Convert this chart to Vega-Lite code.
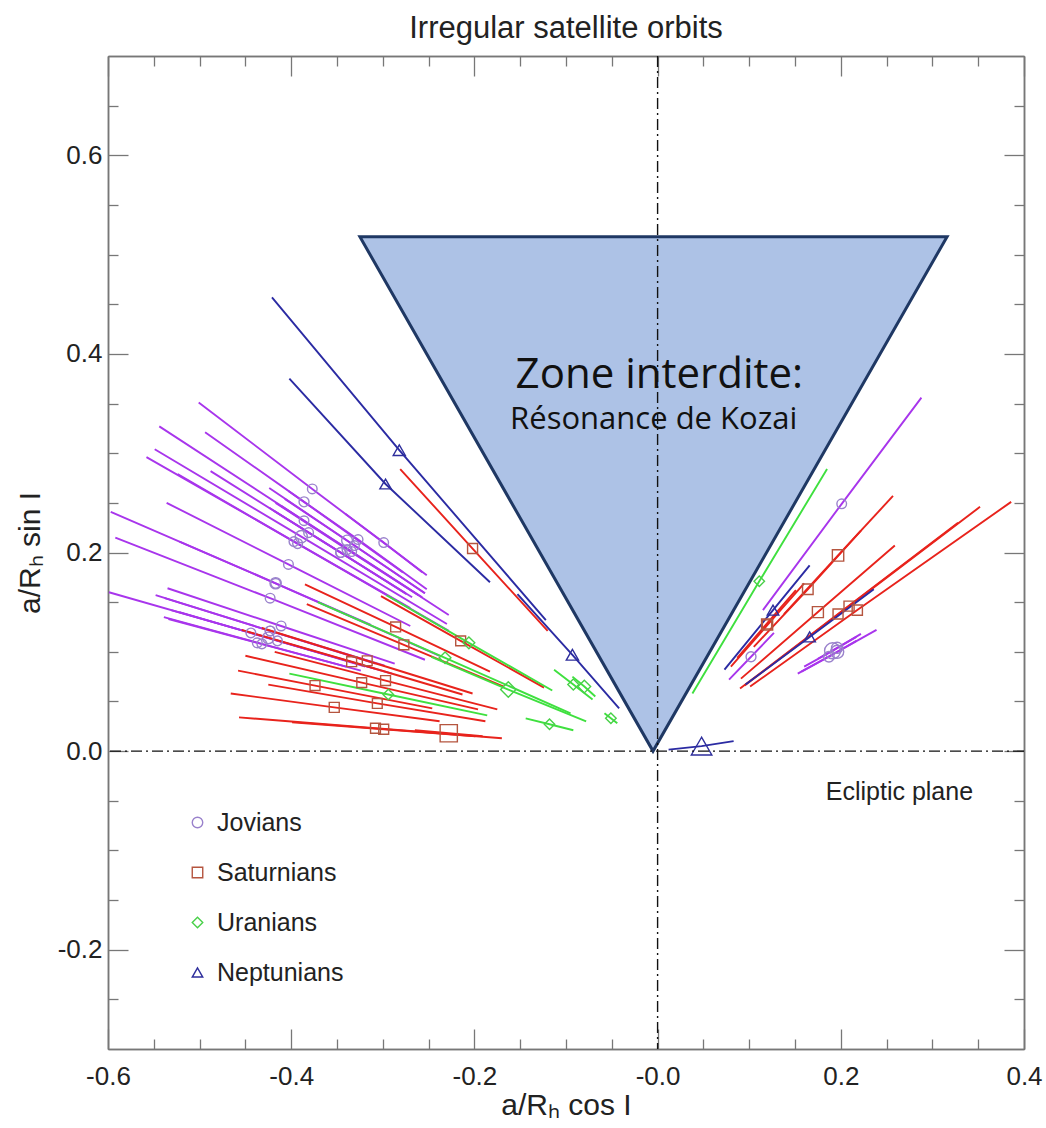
{
  "$schema": "https://vega.github.io/schema/vega-lite/v6.json",
  "autosize": {"type": "none"},
  "padding": {"left": 108, "top": 56, "right": 22, "bottom": 79},
  "width": 916,
  "height": 993,
  "config": {"font": "Liberation Sans", "view": {"stroke": null}},
  "title": {"text": "Irregular satellite orbits", "fontSize": 31, "fontWeight": "normal", "color": "#222222", "offset": 10},
  "datasets": {
    "orbits": [
      {"s":"J1","g":"Jovians","p":"q","x":-0.319,"y":0.085},{"s":"J1","g":"Jovians","p":"a","x":-0.425,"y":0.114,"d":46},{"s":"J1","g":"Jovians","p":"Q","x":-0.531,"y":0.142},
      {"s":"J2","g":"Jovians","p":"q","x":-0.298,"y":0.086},{"s":"J2","g":"Jovians","p":"a","x":-0.423,"y":0.121,"d":5},{"s":"J2","g":"Jovians","p":"Q","x":-0.548,"y":0.157},
      {"s":"J3","g":"Jovians","p":"q","x":-0.309,"y":0.083},{"s":"J3","g":"Jovians","p":"a","x":-0.415,"y":0.111,"d":4},{"s":"J3","g":"Jovians","p":"Q","x":-0.522,"y":0.140},
      {"s":"J4","g":"Jovians","p":"q","x":-0.324,"y":0.081},{"s":"J4","g":"Jovians","p":"a","x":-0.432,"y":0.108,"d":5},{"s":"J4","g":"Jovians","p":"Q","x":-0.539,"y":0.135},
      {"s":"J5","g":"Jovians","p":"q","x":-0.290,"y":0.078},{"s":"J5","g":"Jovians","p":"a","x":-0.444,"y":0.119,"d":4},{"s":"J5","g":"Jovians","p":"Q","x":-0.599,"y":0.160},
      {"s":"J6","g":"Jovians","p":"q","x":-0.308,"y":0.088},{"s":"J6","g":"Jovians","p":"a","x":-0.423,"y":0.121,"d":3},{"s":"J6","g":"Jovians","p":"Q","x":-0.538,"y":0.154},
      {"s":"J7","g":"Jovians","p":"q","x":-0.287,"y":0.088},{"s":"J7","g":"Jovians","p":"a","x":-0.411,"y":0.126,"d":3},{"s":"J7","g":"Jovians","p":"Q","x":-0.535,"y":0.164},
      {"s":"J8","g":"Jovians","p":"q","x":-0.340,"y":0.085},{"s":"J8","g":"Jovians","p":"a","x":-0.437,"y":0.109,"d":3},{"s":"J8","g":"Jovians","p":"Q","x":-0.534,"y":0.133},
      {"s":"J9","g":"Jovians","p":"q","x":-0.254,"y":0.159},{"s":"J9","g":"Jovians","p":"a","x":-0.339,"y":0.212,"d":28},{"s":"J9","g":"Jovians","p":"Q","x":-0.424,"y":0.265},
      {"s":"J10","g":"Jovians","p":"q","x":-0.261,"y":0.157},{"s":"J10","g":"Jovians","p":"a","x":-0.339,"y":0.203,"d":7},{"s":"J10","g":"Jovians","p":"Q","x":-0.417,"y":0.250},
      {"s":"J11","g":"Jovians","p":"q","x":-0.268,"y":0.155},{"s":"J11","g":"Jovians","p":"a","x":-0.346,"y":0.200,"d":5},{"s":"J11","g":"Jovians","p":"Q","x":-0.424,"y":0.245},
      {"s":"J12","g":"Jovians","p":"q","x":-0.257,"y":0.155},{"s":"J12","g":"Jovians","p":"a","x":-0.334,"y":0.201,"d":4},{"s":"J12","g":"Jovians","p":"Q","x":-0.411,"y":0.247},
      {"s":"J13","g":"Jovians","p":"q","x":-0.252,"y":0.163},{"s":"J13","g":"Jovians","p":"a","x":-0.327,"y":0.213,"d":3},{"s":"J13","g":"Jovians","p":"Q","x":-0.403,"y":0.262},
      {"s":"J14","g":"Jovians","p":"q","x":-0.254,"y":0.159},{"s":"J14","g":"Jovians","p":"a","x":-0.331,"y":0.207,"d":4},{"s":"J14","g":"Jovians","p":"Q","x":-0.407,"y":0.254},
      {"s":"J15","g":"Jovians","p":"q","x":-0.274,"y":0.158},{"s":"J15","g":"Jovians","p":"a","x":-0.346,"y":0.200,"d":4},{"s":"J15","g":"Jovians","p":"Q","x":-0.419,"y":0.242},
      {"s":"J16","g":"Jovians","p":"q","x":-0.257,"y":0.180},{"s":"J16","g":"Jovians","p":"a","x":-0.299,"y":0.210,"d":2},{"s":"J16","g":"Jovians","p":"Q","x":-0.341,"y":0.239},
      {"s":"J17","g":"Jovians","p":"q","x":-0.230,"y":0.128},{"s":"J17","g":"Jovians","p":"a","x":-0.389,"y":0.216,"d":60},{"s":"J17","g":"Jovians","p":"Q","x":-0.549,"y":0.304},
      {"s":"J18","g":"Jovians","p":"q","x":-0.313,"y":0.127},{"s":"J18","g":"Jovians","p":"a","x":-0.417,"y":0.169,"d":38},{"s":"J18","g":"Jovians","p":"Q","x":-0.522,"y":0.211},
      {"s":"J19","g":"Jovians","p":"q","x":-0.278,"y":0.180},{"s":"J19","g":"Jovians","p":"a","x":-0.386,"y":0.251,"d":9},{"s":"J19","g":"Jovians","p":"Q","x":-0.494,"y":0.321},
      {"s":"J20","g":"Jovians","p":"q","x":-0.228,"y":0.121},{"s":"J20","g":"Jovians","p":"a","x":-0.393,"y":0.209,"d":6},{"s":"J20","g":"Jovians","p":"Q","x":-0.558,"y":0.296},
      {"s":"J21","g":"Jovians","p":"q","x":-0.270,"y":0.144},{"s":"J21","g":"Jovians","p":"a","x":-0.397,"y":0.211,"d":4},{"s":"J21","g":"Jovians","p":"Q","x":-0.524,"y":0.279},
      {"s":"J22","g":"Jovians","p":"q","x":-0.270,"y":0.126},{"s":"J22","g":"Jovians","p":"a","x":-0.403,"y":0.188,"d":3},{"s":"J22","g":"Jovians","p":"Q","x":-0.536,"y":0.250},
      {"s":"J23","g":"Jovians","p":"q","x":-0.238,"y":0.096},{"s":"J23","g":"Jovians","p":"a","x":-0.417,"y":0.169,"d":4},{"s":"J23","g":"Jovians","p":"Q","x":-0.597,"y":0.241},
      {"s":"J24","g":"Jovians","p":"q","x":-0.252,"y":0.177},{"s":"J24","g":"Jovians","p":"a","x":-0.377,"y":0.264,"d":2},{"s":"J24","g":"Jovians","p":"Q","x":-0.501,"y":0.351},
      {"s":"J25","g":"Jovians","p":"q","x":-0.228,"y":0.137},{"s":"J25","g":"Jovians","p":"a","x":-0.386,"y":0.232,"d":2},{"s":"J25","g":"Jovians","p":"Q","x":-0.544,"y":0.327},
      {"s":"J26","g":"Jovians","p":"q","x":-0.275,"y":0.159},{"s":"J26","g":"Jovians","p":"a","x":-0.381,"y":0.220,"d":3},{"s":"J26","g":"Jovians","p":"Q","x":-0.488,"y":0.282},
      {"s":"J27","g":"Jovians","p":"q","x":-0.254,"y":0.092},{"s":"J27","g":"Jovians","p":"a","x":-0.423,"y":0.154,"d":3},{"s":"J27","g":"Jovians","p":"Q","x":-0.592,"y":0.215},
      {"s":"J28","g":"Jovians","p":"q","x":0.160,"y":0.085},{"s":"J28","g":"Jovians","p":"a","x":0.191,"y":0.101,"d":170},{"s":"J28","g":"Jovians","p":"Q","x":0.222,"y":0.118},
      {"s":"J29","g":"Jovians","p":"q","x":0.153,"y":0.078},{"s":"J29","g":"Jovians","p":"a","x":0.196,"y":0.100,"d":86},{"s":"J29","g":"Jovians","p":"Q","x":0.239,"y":0.122},
      {"s":"J30","g":"Jovians","p":"q","x":0.175,"y":0.093},{"s":"J30","g":"Jovians","p":"a","x":0.196,"y":0.104,"d":36},{"s":"J30","g":"Jovians","p":"Q","x":0.217,"y":0.115},
      {"s":"J31","g":"Jovians","p":"q","x":0.157,"y":0.080},{"s":"J31","g":"Jovians","p":"a","x":0.187,"y":0.095,"d":20},{"s":"J31","g":"Jovians","p":"Q","x":0.217,"y":0.111},
      {"s":"J32","g":"Jovians","p":"q","x":0.078,"y":0.072},{"s":"J32","g":"Jovians","p":"a","x":0.102,"y":0.095,"d":8},{"s":"J32","g":"Jovians","p":"Q","x":0.127,"y":0.119},
      {"s":"J33","g":"Jovians","p":"q","x":0.115,"y":0.142},{"s":"J33","g":"Jovians","p":"a","x":0.201,"y":0.249,"d":3},{"s":"J33","g":"Jovians","p":"Q","x":0.288,"y":0.356},
      {"s":"S1","g":"Saturnians","p":"q","x":-0.120,"y":0.121},{"s":"S1","g":"Saturnians","p":"a","x":-0.202,"y":0.204,"d":10},{"s":"S1","g":"Saturnians","p":"Q","x":-0.281,"y":0.284},
      {"s":"S2","g":"Saturnians","p":"q","x":-0.183,"y":0.080},{"s":"S2","g":"Saturnians","p":"a","x":-0.286,"y":0.125,"d":8},{"s":"S2","g":"Saturnians","p":"Q","x":-0.385,"y":0.168},
      {"s":"S3","g":"Saturnians","p":"q","x":-0.168,"y":0.065},{"s":"S3","g":"Saturnians","p":"a","x":-0.277,"y":0.107,"d":8},{"s":"S3","g":"Saturnians","p":"Q","x":-0.383,"y":0.148},
      {"s":"S4","g":"Saturnians","p":"q","x":-0.124,"y":0.064},{"s":"S4","g":"Saturnians","p":"a","x":-0.215,"y":0.111,"d":8},{"s":"S4","g":"Saturnians","p":"Q","x":-0.302,"y":0.156},
      {"s":"S5","g":"Saturnians","p":"q","x":-0.246,"y":0.043},{"s":"S5","g":"Saturnians","p":"a","x":-0.374,"y":0.066,"d":8},{"s":"S5","g":"Saturnians","p":"Q","x":-0.458,"y":0.081},
      {"s":"S6","g":"Saturnians","p":"q","x":-0.238,"y":0.030},{"s":"S6","g":"Saturnians","p":"a","x":-0.353,"y":0.044,"d":10},{"s":"S6","g":"Saturnians","p":"Q","x":-0.466,"y":0.058},
      {"s":"S7","g":"Saturnians","p":"q","x":-0.170,"y":0.013},{"s":"S7","g":"Saturnians","p":"a","x":-0.308,"y":0.023,"d":8},{"s":"S7","g":"Saturnians","p":"Q","x":-0.457,"y":0.034},
      {"s":"S8","g":"Saturnians","p":"q","x":-0.199,"y":0.015},{"s":"S8","g":"Saturnians","p":"a","x":-0.299,"y":0.022,"d":8},{"s":"S8","g":"Saturnians","p":"Q","x":-0.399,"y":0.029},
      {"s":"S9","g":"Saturnians","p":"q","x":-0.175,"y":0.042},{"s":"S9","g":"Saturnians","p":"a","x":-0.297,"y":0.071,"d":8},{"s":"S9","g":"Saturnians","p":"Q","x":-0.418,"y":0.100},
      {"s":"S10","g":"Saturnians","p":"q","x":-0.191,"y":0.015},{"s":"S10","g":"Saturnians","p":"a","x":-0.228,"y":0.018,"d":213},{"s":"S10","g":"Saturnians","p":"Q","x":-0.265,"y":0.021},
      {"s":"S11","g":"Saturnians","p":"q","x":-0.213,"y":0.057},{"s":"S11","g":"Saturnians","p":"a","x":-0.334,"y":0.090,"d":8},{"s":"S11","g":"Saturnians","p":"Q","x":-0.454,"y":0.122},
      {"s":"S12","g":"Saturnians","p":"q","x":0.138,"y":0.138},{"s":"S12","g":"Saturnians","p":"a","x":0.197,"y":0.197,"d":40},{"s":"S12","g":"Saturnians","p":"Q","x":0.257,"y":0.257},
      {"s":"S13","g":"Saturnians","p":"q","x":0.105,"y":0.105},{"s":"S13","g":"Saturnians","p":"a","x":0.164,"y":0.163,"d":22},{"s":"S13","g":"Saturnians","p":"Q","x":0.222,"y":0.222},
      {"s":"S14","g":"Saturnians","p":"q","x":0.080,"y":0.085},{"s":"S14","g":"Saturnians","p":"a","x":0.120,"y":0.127,"d":16},{"s":"S14","g":"Saturnians","p":"Q","x":0.160,"y":0.169},
      {"s":"S15","g":"Saturnians","p":"q","x":0.091,"y":0.073},{"s":"S15","g":"Saturnians","p":"a","x":0.175,"y":0.140,"d":32},{"s":"S15","g":"Saturnians","p":"Q","x":0.259,"y":0.207},
      {"s":"S16","g":"Saturnians","p":"q","x":0.090,"y":0.063},{"s":"S16","g":"Saturnians","p":"a","x":0.197,"y":0.138,"d":10},{"s":"S16","g":"Saturnians","p":"Q","x":0.328,"y":0.230},
      {"s":"S17","g":"Saturnians","p":"q","x":0.101,"y":0.065},{"s":"S17","g":"Saturnians","p":"a","x":0.218,"y":0.142,"d":15},{"s":"S17","g":"Saturnians","p":"Q","x":0.386,"y":0.251},
      {"s":"S18","g":"Saturnians","p":"q","x":-0.196,"y":0.042},{"s":"S18","g":"Saturnians","p":"a","x":-0.323,"y":0.069,"d":6},{"s":"S18","g":"Saturnians","p":"Q","x":-0.450,"y":0.096},
      {"s":"S19","g":"Saturnians","p":"q","x":-0.202,"y":0.058},{"s":"S19","g":"Saturnians","p":"a","x":-0.317,"y":0.091,"d":6},{"s":"S19","g":"Saturnians","p":"Q","x":-0.432,"y":0.124},
      {"s":"S20","g":"Saturnians","p":"q","x":-0.188,"y":0.030},{"s":"S20","g":"Saturnians","p":"a","x":-0.306,"y":0.048,"d":6},{"s":"S20","g":"Saturnians","p":"Q","x":-0.425,"y":0.067},
      {"s":"S21","g":"Saturnians","p":"q","x":0.087,"y":0.094},{"s":"S21","g":"Saturnians","p":"a","x":0.119,"y":0.128,"d":12},{"s":"S21","g":"Saturnians","p":"Q","x":0.151,"y":0.162},
      {"s":"S22","g":"Saturnians","p":"q","x":0.095,"y":0.066},{"s":"S22","g":"Saturnians","p":"a","x":0.209,"y":0.146,"d":12},{"s":"S22","g":"Saturnians","p":"Q","x":0.352,"y":0.246},
      {"s":"U1","g":"Uranians","p":"q","x":-0.078,"y":0.030},{"s":"U1","g":"Uranians","p":"a","x":-0.163,"y":0.062,"d":150},{"s":"U1","g":"Uranians","p":"Q","x":-0.247,"y":0.095},
      {"s":"U2","g":"Uranians","p":"q","x":-0.068,"y":0.055},{"s":"U2","g":"Uranians","p":"a","x":-0.080,"y":0.065,"d":72},{"s":"U2","g":"Uranians","p":"Q","x":-0.093,"y":0.075},
      {"s":"U3","g":"Uranians","p":"q","x":-0.071,"y":0.052},{"s":"U3","g":"Uranians","p":"a","x":-0.092,"y":0.067,"d":32},{"s":"U3","g":"Uranians","p":"Q","x":-0.113,"y":0.082},
      {"s":"U4","g":"Uranians","p":"q","x":-0.092,"y":0.021},{"s":"U4","g":"Uranians","p":"a","x":-0.118,"y":0.027,"d":18},{"s":"U4","g":"Uranians","p":"Q","x":-0.144,"y":0.033},
      {"s":"U5","g":"Uranians","p":"q","x":-0.044,"y":0.028},{"s":"U5","g":"Uranians","p":"a","x":-0.051,"y":0.033,"d":22},{"s":"U5","g":"Uranians","p":"Q","x":-0.058,"y":0.038},
      {"s":"U6","g":"Uranians","p":"q","x":-0.095,"y":0.038},{"s":"U6","g":"Uranians","p":"a","x":-0.232,"y":0.094,"d":48},{"s":"U6","g":"Uranians","p":"Q","x":-0.371,"y":0.150},
      {"s":"U7","g":"Uranians","p":"q","x":-0.115,"y":0.061},{"s":"U7","g":"Uranians","p":"a","x":-0.206,"y":0.109,"d":50},{"s":"U7","g":"Uranians","p":"Q","x":-0.296,"y":0.157},
      {"s":"U8","g":"Uranians","p":"q","x":-0.186,"y":0.036},{"s":"U8","g":"Uranians","p":"a","x":-0.294,"y":0.057,"d":21},{"s":"U8","g":"Uranians","p":"Q","x":-0.402,"y":0.078},
      {"s":"U9","g":"Uranians","p":"q","x":0.038,"y":0.058},{"s":"U9","g":"Uranians","p":"a","x":0.111,"y":0.171,"d":20},{"s":"U9","g":"Uranians","p":"Q","x":0.185,"y":0.284},
      {"s":"N1","g":"Neptunians","p":"q","x":-0.122,"y":0.132},{"s":"N1","g":"Neptunians","p":"a","x":-0.282,"y":0.303,"d":60},{"s":"N1","g":"Neptunians","p":"Q","x":-0.421,"y":0.457},
      {"s":"N2","g":"Neptunians","p":"q","x":-0.183,"y":0.170},{"s":"N2","g":"Neptunians","p":"a","x":-0.297,"y":0.269,"d":40},{"s":"N2","g":"Neptunians","p":"Q","x":-0.402,"y":0.375},
      {"s":"N3","g":"Neptunians","p":"q","x":-0.042,"y":0.043},{"s":"N3","g":"Neptunians","p":"a","x":-0.093,"y":0.097,"d":62},{"s":"N3","g":"Neptunians","p":"Q","x":-0.153,"y":0.158},
      {"s":"N4","g":"Neptunians","p":"q","x":0.073,"y":0.082},{"s":"N4","g":"Neptunians","p":"a","x":0.126,"y":0.142,"d":44},{"s":"N4","g":"Neptunians","p":"Q","x":0.166,"y":0.187},
      {"s":"N5","g":"Neptunians","p":"q","x":0.096,"y":0.067},{"s":"N5","g":"Neptunians","p":"a","x":0.166,"y":0.115,"d":42},{"s":"N5","g":"Neptunians","p":"Q","x":0.236,"y":0.163},
      {"s":"N6","g":"Neptunians","p":"q","x":0.012,"y":0.0015},{"s":"N6","g":"Neptunians","p":"a","x":0.048,"y":0.005,"d":340},{"s":"N6","g":"Neptunians","p":"Q","x":0.083,"y":0.010}
    ],
    "zone": [
      {"x": -0.325, "top": 0.518, "bottom": 0.518},
      {"x": -0.005, "top": 0.518, "bottom": 0.0},
      {"x": 0.316, "top": 0.518, "bottom": 0.518}
    ],
    "notes": [
      {"label": "Ecliptic plane", "x": 0.264, "y": -0.041}
    ],
    "zonetext": [
      {"label": "Zone interdite:", "x": -0.155, "y": 0.366}
    ],
    "zonetext2": [
      {"label": "Résonance de Kozai", "x": -0.161, "y": 0.324}
    ],
    "origin": [{"v": 0}]
  },
  "resolve": {"axis": {"x": "independent", "y": "independent"}},
  "layer": [
    {
      "data": {"name": "orbits"},
      "mark": {"type": "line", "strokeWidth": 1.9, "clip": true},
      "encoding": {
        "x": {"field": "x", "type": "quantitative", "scale": {"domain": [-0.6, 0.4], "nice": false, "zero": false},
              "axis": {"orient": "bottom", "values": [-0.55,-0.5,-0.45,-0.35,-0.3,-0.25,-0.15,-0.1,-0.05,0.05,0.1,0.15,0.25,0.3,0.35], "tickSize": -10, "labels": false, "title": null, "grid": false, "domainColor": "#777777", "domainWidth": 1.5, "tickColor": "#777777", "tickWidth": 1.3}},
        "y": {"field": "y", "type": "quantitative", "scale": {"domain": [-0.3, 0.7], "nice": false, "zero": false},
              "axis": {"orient": "left", "values": [-0.25,-0.15,-0.1,-0.05,0.05,0.1,0.15,0.25,0.3,0.35,0.45,0.5,0.55,0.65], "tickSize": -10, "labels": false, "title": null, "grid": false, "domainColor": "#777777", "domainWidth": 1.5, "tickColor": "#777777", "tickWidth": 1.3}},
        "stroke": {"field": "g", "type": "nominal", "legend": null,
                   "scale": {"domain": ["Neptunians","Uranians","Saturnians","Jovians"], "range": ["#2b2ba3","#3fe03f","#e8231c","#a835ec"]}},
        "detail": {"field": "s"}
      }
    },
    {
      "data": {"name": "orbits"},
      "transform": [{"filter": "datum.p == 'a'"}],
      "mark": {"type": "point", "filled": false, "strokeWidth": 1.4, "opacity": 1},
      "encoding": {
        "x": {"field": "x", "type": "quantitative",
              "axis": {"orient": "top", "values": [-0.55,-0.5,-0.45,-0.35,-0.3,-0.25,-0.15,-0.1,-0.05,0.05,0.1,0.15,0.25,0.3,0.35], "tickSize": -10, "labels": false, "title": null, "grid": false, "domainColor": "#777777", "domainWidth": 1.5, "tickColor": "#777777", "tickWidth": 1.3}},
        "y": {"field": "y", "type": "quantitative",
              "axis": {"orient": "right", "values": [-0.25,-0.15,-0.1,-0.05,0.05,0.1,0.15,0.25,0.3,0.35,0.45,0.5,0.55,0.65], "tickSize": -10, "labels": false, "title": null, "grid": false, "domainColor": "#777777", "domainWidth": 1.5, "tickColor": "#777777", "tickWidth": 1.3}},
        "color": {"field": "g", "type": "nominal", "title": null,
                  "scale": {"domain": ["Jovians","Saturnians","Uranians","Neptunians"], "range": ["#9a82cc","#b5553f","#48d048","#2e2e9c"]},
                  "legend": {"orient": "none", "legendX": 77, "legendY": 754, "symbolSize": 110, "symbolStrokeWidth": 1.4, "labelFontSize": 25, "labelColor": "#222222", "rowPadding": 24, "labelOffset": 7, "padding": 0, "symbolFillColor": "transparent"}},
        "shape": {"field": "g", "type": "nominal", "title": null,
                  "scale": {"domain": ["Jovians","Saturnians","Uranians","Neptunians"], "range": ["circle","square","diamond","triangle-up"]}},
        "size": {"field": "d", "type": "quantitative", "legend": null, "scale": {"domain": [0, 340], "range": [90, 420]}}
      }
    },
    {
      "data": {"name": "zone"},
      "mark": {"type": "area", "fill": "#adc2e6", "fillOpacity": 1, "stroke": "#1f3864", "strokeWidth": 3, "strokeJoin": "miter"},
      "encoding": {
        "x": {"field": "x", "type": "quantitative",
              "axis": {"orient": "bottom", "values": [-0.6,-0.4,-0.2,0,0.2,0.4], "tickSize": -20, "labelPadding": 34, "labelFontSize": 26, "labelColor": "#222222", "labelFlush": false,
                       "labelExpr": "datum.value <= 0 ? '-' + format(abs(datum.value), '.1f') : format(datum.value, '.1f')",
                       "title": "a/Rₕ cos I", "titleFontSize": 30, "titleFontWeight": "normal", "titleColor": "#222222", "titlePadding": 1,
                       "grid": false, "domainColor": "#777777", "domainWidth": 1.5, "tickColor": "#777777", "tickWidth": 1.3}},
        "y": {"field": "top", "type": "quantitative",
              "axis": {"orient": "left", "values": [-0.2,0,0.2,0.4,0.6], "tickSize": -20, "labelPadding": 26, "labelFontSize": 26, "labelColor": "#222222",
                       "labelExpr": "datum.value < 0 ? '-' + format(abs(datum.value), '.1f') : format(datum.value, '.1f')",
                       "title": "a/Rₕ sin I", "titleFontSize": 30, "titleFontWeight": "normal", "titleColor": "#222222", "titlePadding": 12,
                       "grid": false, "domainColor": "#777777", "domainWidth": 1.5, "tickColor": "#777777", "tickWidth": 1.3}},
        "y2": {"field": "bottom"}
      }
    },
    {
      "data": {"name": "origin"},
      "mark": {"type": "rule", "color": "#111111", "strokeWidth": 1.4, "strokeDash": [11, 4, 2, 4]},
      "encoding": {"x": {"field": "v", "type": "quantitative", "axis": null}}
    },
    {
      "data": {"name": "origin"},
      "mark": {"type": "rule", "color": "#111111", "strokeWidth": 1.4, "strokeDash": [11, 4, 2, 4]},
      "encoding": {"y": {"field": "v", "type": "quantitative", "axis": null}}
    },
    {
      "data": {"name": "notes"},
      "mark": {"type": "text", "fontSize": 25, "color": "#222222", "align": "center", "baseline": "middle"},
      "encoding": {
        "text": {"field": "label"},
        "x": {"field": "x", "type": "quantitative",
              "axis": {"orient": "top", "values": [-0.6,-0.4,-0.2,0,0.2,0.4], "tickSize": -20, "labels": false, "title": null, "grid": false, "domainColor": "#777777", "domainWidth": 1.5, "tickColor": "#777777", "tickWidth": 1.3}},
        "y": {"field": "y", "type": "quantitative",
              "axis": {"orient": "right", "values": [-0.2,0,0.2,0.4,0.6], "tickSize": -20, "labels": false, "title": null, "grid": false, "domainColor": "#777777", "domainWidth": 1.5, "tickColor": "#777777", "tickWidth": 1.3}}
      }
    },
    {
      "data": {"name": "zonetext"},
      "mark": {"type": "text", "font": "Open Sans", "fontSize": 42, "color": "#111111", "align": "left", "baseline": "alphabetic"},
      "encoding": {
        "text": {"field": "label"},
        "x": {"field": "x", "type": "quantitative", "axis": null},
        "y": {"field": "y", "type": "quantitative", "axis": null}
      }
    },
    {
      "data": {"name": "zonetext2"},
      "mark": {"type": "text", "font": "Open Sans", "fontSize": 31, "color": "#111111", "align": "left", "baseline": "alphabetic"},
      "encoding": {
        "text": {"field": "label"},
        "x": {"field": "x", "type": "quantitative", "axis": null},
        "y": {"field": "y", "type": "quantitative", "axis": null}
      }
    }
  ]
}
